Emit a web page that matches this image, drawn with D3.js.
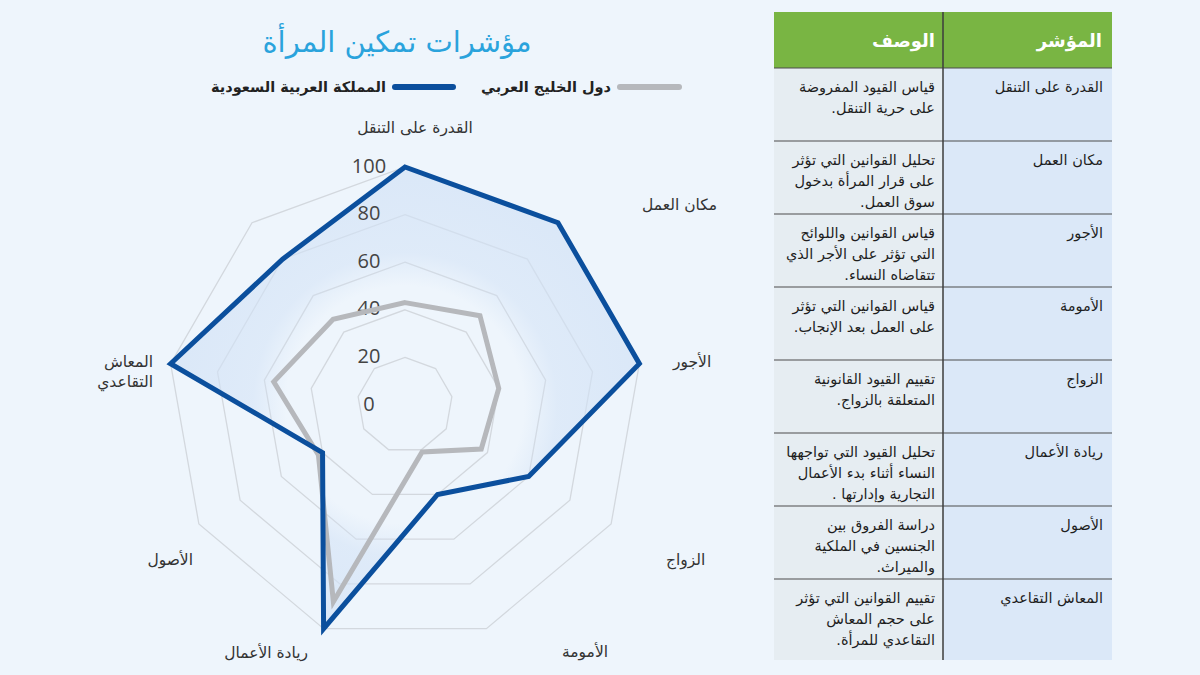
<!DOCTYPE html>
<html lang="ar"><head><meta charset="UTF-8">
<title>مؤشرات تمكين المرأة</title>
<script src="https://cdn.jsdelivr.net/npm/d3@7"></script>
<style>
  html, body { margin: 0; padding: 0; background: #eef5fc; }
  svg { display: block; }
  .ar { font-family: "DejaVu Sans", sans-serif; }
</style>
</head>
<body>
<div id="chart"></div>
<script>
// --- data ---
const indicators = ["القدرة على التنقل", "مكان العمل", "الأجور", "الأمومة", "الزواج",
  "ريادة الأعمال", "الأصول", "المعاش التقاعدي"];
const descriptions = [
  ["قياس القيود المفروضة", "على حرية التنقل."],
  ["تحليل القوانين التي تؤثر", "على قرار المرأة بدخول", "سوق العمل."],
  ["قياس القوانين واللوائح", "التي تؤثر على الأجر الذي", "تتقاضاه النساء."],
  ["قياس القوانين التي تؤثر", "على العمل بعد الإنجاب."],
  ["تقييم القيود القانونية", "المتعلقة بالزواج."],
  ["تحليل القيود التي تواجهها", "النساء أثناء بدء الأعمال", "التجارية وإدارتها ."],
  ["دراسة الفروق بين", "الجنسين في الملكية", "والميراث."],
  ["تقييم القوانين التي تؤثر", "على حجم المعاش", "التقاعدي للمرأة."]
];
// radar labels, clockwise from the top (the ninth spoke has no label)
const radarLabels = [["القدرة على التنقل"], ["مكان العمل"], ["الأجور"], ["الزواج"],
  ["الأمومة"], ["ريادة الأعمال"], ["الأصول"], ["المعاش", "التقاعدي"]];
const saudi = [100, 100, 100, 60, 40, 100, 40, 100, 80];
const gulf = [43, 49, 40, 37, 21, 88, 42, 56, 47];
const ticks = [0, 20, 40, 60, 80, 100];
const seriesNames = ["المملكة العربية السعودية", "دول الخليج العربي"];
const title = "مؤشرات تمكين المرأة";
const headers = ["المؤشر", "الوصف"];

// --- layout ---
const W = 1200, H = 675;
const cx = 405, cy = 405, R = 238;
const labelOffsets = [[10, -277, "middle"], [237, -200, "start"], [268, -43, "start"],
  [261, 155, "start"], [157, 247, "start"], [-97, 248, "end"], [-212, 155, "end"], [-252, -33, "end"]];
const RLM = "\u200F";
const blue = "#0b4f9d", grey = "#b6b8bc", gridCol = "#d3d8de";

const svg = d3.select("#chart").append("svg")
  .attr("width", W).attr("height", H);

svg.append("rect").attr("width", W).attr("height", H).attr("fill", "#eef5fc");

const defs = svg.append("defs");
const grad = defs.append("radialGradient").attr("id", "fillGrad")
  .attr("gradientUnits", "userSpaceOnUse")
  .attr("cx", 0).attr("cy", 0).attr("r", R);
grad.append("stop").attr("offset", "0%").attr("stop-color", "#d2e2f6").attr("stop-opacity", 0);
grad.append("stop").attr("offset", "50%").attr("stop-color", "#d2e2f6").attr("stop-opacity", 0);
grad.append("stop").attr("offset", "64%").attr("stop-color", "#d2e2f6").attr("stop-opacity", 0.55);
grad.append("stop").attr("offset", "100%").attr("stop-color", "#d2e2f6").attr("stop-opacity", 0.7);

// title
svg.append("text").attr("class", "ar")
  .attr("x", 397).attr("y", 42)
  .attr("text-anchor", "middle").attr("dominant-baseline", "central")
  .attr("font-size", 29).attr("fill", "#2aa3dc")
  .text(title);

// legend
const legend = [
  { name: seriesNames[1], color: grey, x1: 620, x2: 679 },
  { name: seriesNames[0], color: blue, x1: 395, x2: 453 }
];
const lg = svg.append("g").selectAll("g").data(legend).join("g");
lg.append("line")
  .attr("x1", d => d.x1).attr("x2", d => d.x2)
  .attr("y1", 87).attr("y2", 87)
  .attr("stroke", d => d.color).attr("stroke-width", 6).attr("stroke-linecap", "round");
lg.append("text").attr("class", "ar")
  .attr("x", d => d.x1 - 9).attr("y", 87)
  .attr("text-anchor", "end").attr("dominant-baseline", "central")
  .attr("font-size", 14.5).attr("font-weight", "bold").attr("fill", "#222")
  .text(d => d.name);

// radar
const n = saudi.length;
const r = d3.scaleLinear().domain([0, 100]).range([0, R]);
const angle = d3.scaleLinear().domain([0, n]).range([0, 2 * Math.PI]);
const radial = d3.lineRadial()
  .angle((d, i) => angle(i))
  .radius(d => r(d))
  .curve(d3.curveLinearClosed);

const g = svg.append("g").attr("transform", `translate(${cx},${cy})`);

g.selectAll(".ring").data(ticks.filter(t => t > 0)).join("path")
  .attr("class", "ring")
  .attr("d", t => radial(d3.range(n).map(() => t)))
  .attr("fill", "none").attr("stroke", gridCol).attr("stroke-width", 1.3);

g.append("path").attr("d", radial(saudi)).attr("fill", "url(#fillGrad)");

g.selectAll(".tick").data(ticks).join("text")
  .attr("class", "tick")
  .attr("x", -36).attr("y", t => -r(t) - 2)
  .attr("text-anchor", "middle").attr("dominant-baseline", "central")
  .attr("font-family", "'Open Sans', sans-serif").attr("font-size", 20).attr("fill", "#444")
  .text(t => t);

g.append("path").attr("d", radial(gulf))
  .attr("fill", "none").attr("stroke", grey).attr("stroke-width", 5)
  .attr("stroke-linejoin", "miter");
g.append("path").attr("d", radial(saudi))
  .attr("fill", "none").attr("stroke", blue).attr("stroke-width", 5)
  .attr("stroke-linejoin", "miter").attr("stroke-miterlimit", 10);

// axis labels
const lab = g.selectAll(".lab").data(radarLabels).join("text")
  .attr("class", "lab ar")
  .attr("x", (d, i) => labelOffsets[i][0])
  .attr("y", (d, i) => labelOffsets[i][1] - (d.length - 1) * 10)
  .attr("text-anchor", (d, i) => labelOffsets[i][2])
  .attr("font-size", 15.5).attr("fill", "#333");
lab.selectAll("tspan").data(d => d).join("tspan")
  .attr("x", function () { return d3.select(this.parentNode).attr("x"); })
  .attr("dy", (d, i) => i === 0 ? "0.35em" : 20)
  .text(d => d);

// table
const tx0 = 774, tDiv = 943, tx1 = 1112, tTop = 12, hH = 56, rowH = 73, tBottom = 660;
const rowTop = i => tTop + hH + i * rowH;
const rowBottom = i => i === indicators.length - 1 ? tBottom : rowTop(i + 1);

const tbl = svg.append("g");
tbl.append("rect").attr("x", tx0).attr("y", tTop).attr("width", tx1 - tx0).attr("height", hH)
  .attr("fill", "#79b543");
tbl.selectAll(".hd").data(headers).join("text")
  .attr("class", "ar")
  .attr("x", (d, i) => i === 0 ? tx1 - 10 : tDiv - 8)
  .attr("y", tTop + hH / 2)
  .attr("text-anchor", "end").attr("dominant-baseline", "central")
  .attr("font-size", 18).attr("font-weight", "bold").attr("fill", "#fff")
  .text(d => d);

const rows = tbl.selectAll(".row").data(indicators).join("g").attr("class", "row");
rows.append("rect").attr("x", tDiv).attr("y", (d, i) => rowTop(i))
  .attr("width", tx1 - tDiv).attr("height", (d, i) => rowBottom(i) - rowTop(i))
  .attr("fill", "#dbe8f8");
rows.append("rect").attr("x", tx0).attr("y", (d, i) => rowTop(i))
  .attr("width", tDiv - tx0).attr("height", (d, i) => rowBottom(i) - rowTop(i))
  .attr("fill", "#e6edf2");
rows.append("text").attr("class", "ar")
  .attr("x", tx1 - 9).attr("y", (d, i) => rowTop(i) + 19)
  .attr("text-anchor", "end").attr("dominant-baseline", "central")
  .attr("font-size", 14.5).attr("fill", "#1e1e1e")
  .text(d => d);
const desc = rows.append("text").attr("class", "ar")
  .attr("text-anchor", "end").attr("font-size", 14.5).attr("fill", "#1e1e1e");
desc.selectAll("tspan").data((d, i) => descriptions[i].map(t => ({ t, i }))).join("tspan")
  .attr("x", tDiv - 8)
  .attr("y", (d, j) => rowTop(d.i) + 19 + j * 21)
  .attr("dominant-baseline", "central")
  .text(d => d.t + RLM);

// separators
tbl.selectAll(".sep").data(d3.range(indicators.length)).join("line")
  .attr("x1", tx0).attr("x2", tx1)
  .attr("y1", i => rowTop(i)).attr("y2", i => rowTop(i))
  .attr("stroke", "#4d4d4d").attr("stroke-width", 1.2);
tbl.append("line").attr("x1", tDiv).attr("x2", tDiv).attr("y1", tTop).attr("y2", tBottom)
  .attr("stroke", "#3d3d3d").attr("stroke-width", 1.5);
</script>
</body></html>
